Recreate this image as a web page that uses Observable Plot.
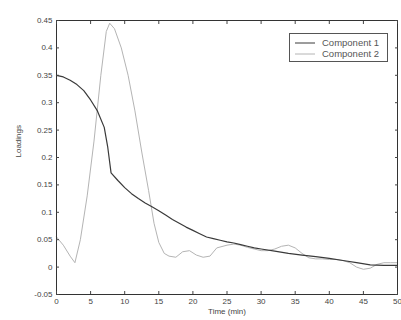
<!DOCTYPE html>
<html><head><meta charset="utf-8">
<script src="https://cdn.jsdelivr.net/npm/d3@7"></script>
<script src="https://cdn.jsdelivr.net/npm/@observablehq/plot@0.6"></script>
<style>
body{margin:0;background:#fff;font-family:"Liberation Sans",Arial,sans-serif;}
#wrap{position:relative;width:401px;height:320px;}
#legend{position:absolute;left:289px;top:33px;width:99px;height:29px;border:1px solid #555;background:#fff;font-size:9.5px;color:#555;box-sizing:border-box;}
#legend div{position:absolute;left:5px;height:11px;display:flex;align-items:center;white-space:nowrap;}
#legend svg{margin-right:7px;}
</style></head>
<body><div id="wrap"></div>
<script>
const seriesNames = ["Component 1", "Component 2"];
const seriesColors = ["#3a3a3a", "#b4b4b4"];
const t1 = [0,1,2,3,4,5,6,7,7.5,8,9,10,11,12,13,14,15,16,17,18,19,20,21,22,23,24,25,26,27,28,29,30,32,34,36,38,40,42,44,46,48,50];
const v1 = [0.350,0.347,0.341,0.333,0.322,0.305,0.285,0.255,0.220,0.172,0.158,0.145,0.134,0.125,0.117,0.110,0.103,0.095,0.087,0.080,0.073,0.067,0.061,0.055,0.052,0.049,0.046,0.044,0.041,0.038,0.035,0.033,0.029,0.025,0.022,0.019,0.016,0.012,0.008,0.004,0.003,0.003];
const t2 = [0,1,2,2.7,3.5,4.5,5.5,6.5,7.3,7.8,8.5,9.5,10.5,11.5,12.5,13.5,14.3,15,15.8,16.5,17.5,18.5,19.5,20.5,21.5,22.5,23.5,25,26,27,28,29,30,31,32,33,34,35,36,37,38,39,40,41,42,43,44,45,46,47,48,49,50];
const v2 = [0.055,0.040,0.020,0.008,0.050,0.130,0.230,0.350,0.430,0.445,0.435,0.400,0.350,0.285,0.210,0.140,0.080,0.045,0.025,0.020,0.018,0.028,0.030,0.022,0.018,0.020,0.035,0.040,0.042,0.040,0.036,0.033,0.030,0.030,0.033,0.038,0.040,0.035,0.025,0.017,0.015,0.015,0.014,0.014,0.012,0.008,0.000,-0.004,-0.002,0.005,0.008,0.008,0.008];
const xTicks = [0,5,10,15,20,25,30,35,40,45,50];
const yTicks = [-0.05,0,0.05,0.1,0.15,0.2,0.25,0.3,0.35,0.4,0.45];
const xLabel = "Time (min)";
const yLabel = "Loadings";

const d1 = t1.map((t,i)=>({t, v:v1[i]}));
const d2 = t2.map((t,i)=>({t, v:v2[i]}));
const fmt = d => String(d);
const none = () => "";
const axStyle = {fontSize: 8, color: "#444"};

const chart = Plot.plot({
  width: 401, height: 320,
  marginLeft: 56, marginRight: 4, marginTop: 20, marginBottom: 26,
  style: {fontFamily: "Liberation Sans, Arial, sans-serif", fontSize: "8px", color: "#444", background: "#fff"},
  x: {domain: [0, 50]},
  y: {domain: [-0.05, 0.45]},
  marks: [
    Plot.line(d2, {x: "t", y: "v", stroke: seriesColors[1], strokeWidth: 1}),
    Plot.line(d1, {x: "t", y: "v", stroke: seriesColors[0], strokeWidth: 1.2}),
    Plot.frame({stroke: "#333"}),
    Plot.axisX({anchor: "bottom", ticks: xTicks, tickFormat: fmt, tickSize: -3, tickPadding: 7, label: null, ...axStyle}),
    Plot.axisX({anchor: "top", ticks: xTicks, tickFormat: none, tickSize: -3, label: null}),
    Plot.axisY({anchor: "left", ticks: yTicks, tickFormat: fmt, tickSize: -3, tickPadding: 7, label: null, ...axStyle}),
    Plot.axisY({anchor: "right", ticks: yTicks, tickFormat: none, tickSize: -3, label: null}),
    Plot.text([xLabel], {frameAnchor: "bottom", dy: 19, fontSize: 8, fill: "#444"}),
    Plot.text([yLabel], {frameAnchor: "left", dx: -38, rotate: -90, fontSize: 8, fill: "#444"})
  ]
});
const wrap = document.getElementById("wrap");
wrap.appendChild(chart);
const leg = document.createElement("div");
leg.id = "legend";
seriesNames.forEach((n,i)=>{
  const row = document.createElement("div");
  row.style.top = (3 + i*11) + "px";
  row.innerHTML = `<svg width="20" height="4"><line x1="0" x2="20" y1="2" y2="2" stroke="${seriesColors[i]}" stroke-width="1"/></svg><span>${n}</span>`;
  leg.appendChild(row);
});
wrap.appendChild(leg);
</script></body></html>
